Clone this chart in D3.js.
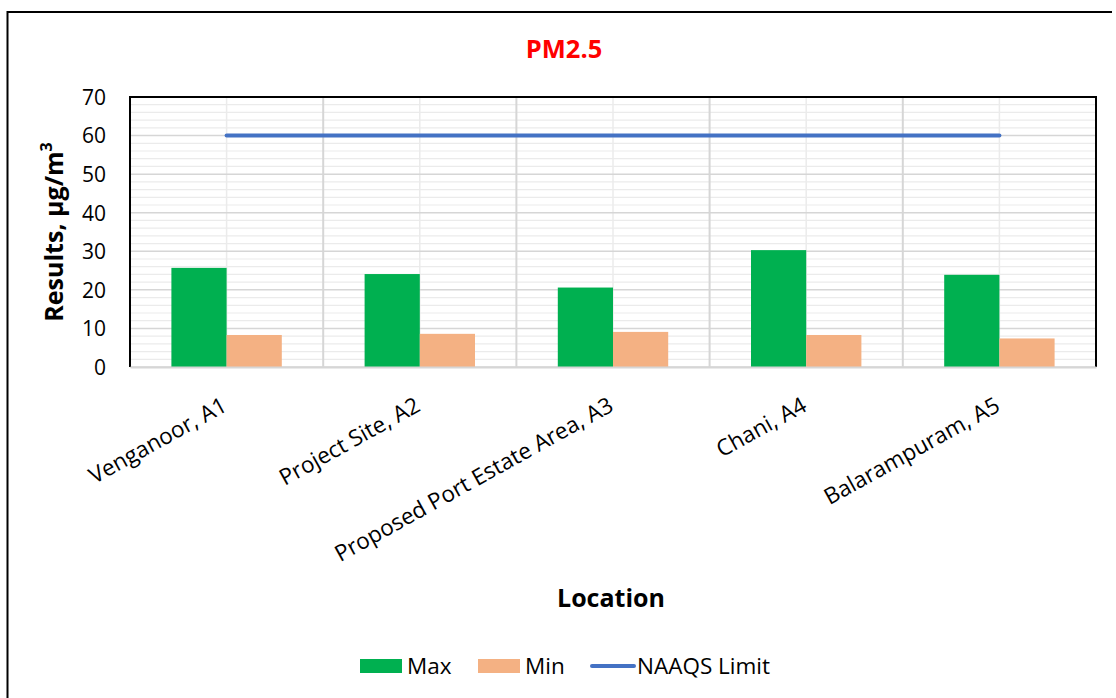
<!DOCTYPE html>
<html>
<head>
<meta charset="utf-8">
<script src="https://cdn.jsdelivr.net/npm/d3@7"></script>
<style>
  html, body { margin: 0; padding: 0; background: #fff; }
  svg { display: block; font-family: "Open Sans", "Noto Sans", sans-serif; }
</style>
</head>
<body>
<svg id="chart" width="1116" height="698"></svg>
<script>
const categories = ["Venganoor, A1", "Project Site, A2", "Proposed Port Estate Area, A3", "Chani, A4", "Balarampuram, A5"];
const maxValues = [25.7, 24.1, 20.6, 30.3, 23.9];
const minValues = [8.3, 8.6, 9.1, 8.3, 7.4];
const limitValues = [60, 60, 60, 60, 60];
const yTicks = [0, 10, 20, 30, 40, 50, 60, 70];
const seriesNames = ["Max", "Min", "NAAQS Limit"];

const W = 1116, H = 698;
const margin = { left: 130, top: 97, right: 1096, bottom: 367 };
const svg = d3.select("#chart");

// outer frame
svg.append("line").attr("x1", 7.5).attr("x2", 7.5).attr("y1", 11).attr("y2", H).attr("stroke", "#000").attr("stroke-width", 2);
svg.append("line").attr("x1", 7).attr("x2", 1112).attr("y1", 12).attr("y2", 12).attr("stroke", "#000").attr("stroke-width", 2);

const x = d3.scaleBand().domain(categories).range([margin.left, margin.right]).padding(0);
const y = d3.scaleLinear().domain([0, 70]).range([margin.bottom, margin.top]);

// minor horizontal gridlines
const minor = d3.range(0, 70.01, 2).filter(v => v % 10 !== 0);
svg.append("g").selectAll("line").data(minor).join("line")
  .attr("x1", margin.left).attr("x2", margin.right)
  .attr("y1", d => y(d)).attr("y2", d => y(d))
  .attr("stroke", "#ebebeb").attr("stroke-width", 1.2);
// minor vertical gridlines at centres
svg.append("g").selectAll("line").data(categories).join("line")
  .attr("x1", d => x(d) + x.bandwidth() / 2).attr("x2", d => x(d) + x.bandwidth() / 2)
  .attr("y1", margin.top).attr("y2", margin.bottom)
  .attr("stroke", "#ebebeb").attr("stroke-width", 1.5);
// major horizontal
svg.append("g").selectAll("line").data(yTicks).join("line")
  .attr("x1", margin.left).attr("x2", margin.right)
  .attr("y1", d => y(d)).attr("y2", d => y(d))
  .attr("stroke", "#d6d6d6").attr("stroke-width", 1.5);
// major vertical at boundaries
svg.append("g").selectAll("line").data(categories.slice(1)).join("line")
  .attr("x1", d => x(d)).attr("x2", d => x(d))
  .attr("y1", margin.top).attr("y2", margin.bottom)
  .attr("stroke", "#d6d6d6").attr("stroke-width", 2);

// bars
const inner = d3.scaleBand().domain(["Max", "Min"]).range([0, x.bandwidth()]).paddingOuter(0.75).paddingInner(0);
const colors = { "Max": "#00B050", "Min": "#F4B183" };
const barData = [];
categories.forEach((c, i) => {
  barData.push({ c, s: "Max", v: maxValues[i] });
  barData.push({ c, s: "Min", v: minValues[i] });
});
svg.append("g").selectAll("rect").data(barData).join("rect")
  .attr("x", d => x(d.c) + inner(d.s))
  .attr("width", inner.bandwidth())
  .attr("y", d => y(d.v))
  .attr("height", d => y(0) - y(d.v))
  .attr("fill", d => colors[d.s]);

// limit line
const line = d3.line().x((d, i) => x(categories[i]) + x.bandwidth() / 2).y(d => y(d));
svg.append("path").datum(limitValues).attr("d", line)
  .attr("fill", "none").attr("stroke", "#4472C4").attr("stroke-width", 4).attr("stroke-linecap", "round");

// plot border
svg.append("path")
  .attr("d", `M${margin.left},${margin.bottom}V${margin.top}H${margin.right}V${margin.bottom}`)
  .attr("fill", "none").attr("stroke", "#000").attr("stroke-width", 2);

// y axis
const yAxis = d3.axisLeft(y).tickValues(yTicks).tickSize(0).tickPadding(0);
const yg = svg.append("g").attr("transform", `translate(${margin.left - 24},0)`).call(yAxis);
yg.select(".domain").remove();
yg.selectAll("text").attr("font-size", 21).attr("fill", "#000").attr("font-family", "'Open Sans', sans-serif").attr("dy", "0.35em");

// x axis labels
const xAxis = d3.axisBottom(x).tickSize(0).tickPadding(0);
const xg = svg.append("g").attr("transform", `translate(0,${margin.bottom})`).call(xAxis);
xg.select(".domain").attr("stroke", "#d6d6d6").attr("stroke-width", 2);
xg.selectAll("text")
  .attr("font-size", 22.5).attr("fill", "#000").attr("font-family", "'Open Sans', sans-serif")
  .attr("text-anchor", "end")
  .attr("y", 0).attr("dy", 0)
  .attr("transform", "translate(2,43) rotate(-29)");

// title
svg.append("text").attr("x", 564).attr("y", 58).attr("text-anchor", "middle")
  .attr("font-size", 25.5).attr("font-weight", "bold").attr("fill", "#FF0000").text("PM2.5");

// axis titles
svg.append("text").attr("transform", "translate(63,232) rotate(-90)").attr("text-anchor", "middle")
  .attr("font-size", 25).attr("font-weight", "bold").attr("fill", "#000")
  .html('Results, µg/m<tspan baseline-shift="super" font-size="16">3</tspan>');
svg.append("text").attr("x", 611).attr("y", 607).attr("text-anchor", "middle")
  .attr("font-size", 25).attr("font-weight", "bold").attr("fill", "#000").text("Location");

// legend
const legendItems = [
  { name: seriesNames[0], type: "rect", color: colors.Max, x: 360 },
  { name: seriesNames[1], type: "rect", color: colors.Min, x: 478 },
  { name: seriesNames[2], type: "line", color: "#4472C4", x: 590 }
];
const lg = svg.append("g");
legendItems.forEach(it => {
  if (it.type === "rect") {
    lg.append("rect").attr("x", it.x).attr("y", 659).attr("width", 42).attr("height", 14).attr("fill", it.color);
  } else {
    lg.append("line").attr("x1", it.x + 2).attr("x2", it.x + 44).attr("y1", 666).attr("y2", 666)
      .attr("stroke", it.color).attr("stroke-width", 4).attr("stroke-linecap", "round");
  }
  lg.append("text").attr("x", it.x + 47).attr("y", 674)
    .attr("font-size", 22.5).attr("fill", "#000").text(it.name);
});
</script>
</body>
</html>
